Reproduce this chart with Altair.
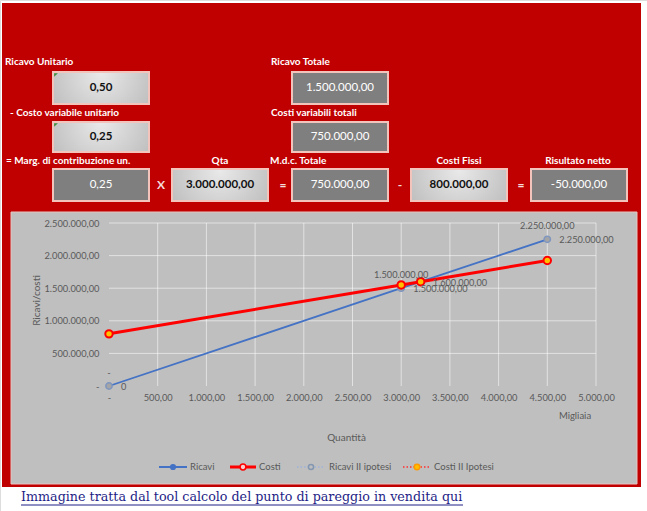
import altair as alt
import pandas as pd

# ---------------- data ----------------
# chart series: quantity in thousands (Migliaia), value in euro
ricavi_q = [0, 3000, 4500]
ricavi_v = [0, 1500000, 2250000]
costi_q = [0, 3000, 3200, 4500]
costi_v = [800000, 1550000, 1600000, 1925000]
ricavi2_q = [0, 3000, 4500]
ricavi2_v = [0, 1500000, 2250000]
costi2_q = [0, 3000, 3200, 4500]
costi2_v = [800000, 1550000, 1600000, 1925000]

x_ticks = [0, 500, 1000, 1500, 2000, 2500, 3000, 3500, 4000, 4500, 5000]
y_ticks = [0, 500000, 1000000, 1500000, 2000000, 2500000]

# data labels shown on the chart
lbl_q = [0, 0, 3000, 3000, 3200, 4500, 4500]
lbl_v = [0, 0, 1500000, 1500000, 1600000, 2250000, 2250000]
lbl_text = ["-", "0", "1.500.000,00", "1.500.000,00", "1.600.000,00", "2.250.000,00", "2.250.000,00"]
lbl_side = ["above", "right", "above", "right", "right", "above", "right"]

# dashboard fields
field_names = ["Ricavo Unitario", "- Costo variabile unitario", "= Marg. di contribuzione un.", "Qta",
               "Ricavo Totale", "Costi variabili totali", "M.d.c. Totale", "Costi Fissi", "Risultato netto"]
field_values = [0.50, 0.25, 0.25, 3000000, 1500000, 750000, 750000, 800000, -50000]
field_computed = [False, False, True, False, True, True, True, False, True]
field_comment = [True, True, False, False, False, False, False, False, False]
operator_signs = ["X", "=", "-", "="]

legend_names = ["Ricavi", "Costi", "Ricavi II ipotesi", "Costi II Ipotesi"]
x_title = "Quantità"
y_title = "Ricavi/costi"
unit_note = "Migliaia"
footer = "Immagine tratta dal tool calcolo del punto di pareggio in vendita qui"

# ---------------- layout & style ----------------
W, H = 647, 511
FONT = "Lato"
RED = "#C00000"
GRAYTXT = "#595959"
BOX_W = 96
box_x0 = [53, 53, 53, 172, 292, 292, 292, 411, 531]
box_y0 = [72, 122, 169, 169, 72, 122, 169, 169, 169]
box_y1 = [104, 152, 201, 201, 104, 152, 201, 201, 201]
lab_x = [5, 10, 6, 220, 271, 271, 270, 459, 578]
lab_y = [62, 113, 161, 161, 62, 113, 161, 161, 161]
lab_center = [False, False, False, True, False, False, False, True, True]
op_x = [161, 283, 400, 521]
OP_Y = 185

XS = alt.Scale(domain=[x_ticks[0], x_ticks[-1]], range=[109, 596], nice=False, zero=False)
YS = alt.Scale(domain=[y_ticks[0], y_ticks[-1]], range=[386, 223], nice=False)

leg_cx = [173, 243, 311, 417]
leg_half = [14, 13, 14, 14]
leg_tx = [190, 259, 329, 434]
LEG_Y = 467
leg_line_color = ["#4472C4", "#FF0000", "#9DB3D9", "#FF3030"]
leg_line_width = [2, 3, 1.5, 1.5]
leg_dash = [[1, 0], [1, 0], [1.5, 2], [1.5, 2]]
leg_mfill = ["#4472C4", "#F8D0D0", "#BFBFBF", "#FFC000"]
leg_mstroke = ["#4472C4", "#FF0000", "#8497B0", "#FF9900"]
leg_msize = [22, 34, 26, 30]

one = pd.DataFrame({"k": [0]})


def px(f):
    return alt.X(f, type="quantitative", scale=None, axis=None)


def py(f):
    return alt.Y(f, type="quantitative", scale=None, axis=None)


def qx(f, axis=None):
    return alt.X(f, type="quantitative", scale=XS, axis=axis)


def vy(f, axis=None):
    return alt.Y(f, type="quantitative", scale=YS, axis=axis)


layers = []

# red sheet and grey chart area
layers.append(alt.Chart(one).mark_rect(fill=RED).encode(
    x=alt.value(2), x2=alt.value(641), y=alt.value(3), y2=alt.value(487)))
layers.append(alt.Chart(one).mark_rect(fill="#BFBFBF", stroke="#E8C4C2", strokeWidth=1).encode(
    x=alt.value(11), x2=alt.value(637), y=alt.value(212), y2=alt.value(484)))

# dashboard boxes
boxes = pd.DataFrame({
    "name": field_names, "value": field_values, "computed": field_computed,
    "comment": field_comment, "x0": box_x0, "y0": box_y0,
    "x1": [x + BOX_W for x in box_x0], "y1": box_y1,
    "lx": lab_x, "ly": lab_y, "center": lab_center,
})
boxes["cx"] = (boxes["x0"] + boxes["x1"]) / 2
boxes["cy"] = (boxes["y0"] + boxes["y1"]) / 2
boxes["tx"] = boxes["x0"] + 3
boxes["ty"] = boxes["y0"] + 3

light_grad = {"gradient": "radial", "x1": 0.5, "y1": 0.35, "r1": 0, "x2": 0.5, "y2": 0.35, "r2": 0.75,
              "stops": [{"offset": 0, "color": "#E9E9E9"}, {"offset": 1, "color": "#B3B3B3"}]}

layers.append(alt.Chart(boxes).transform_filter("!datum.computed").mark_rect(
    fill=light_grad, stroke="#F2C4BC", strokeWidth=2).encode(
    x=px("x0"), x2="x1", y=py("y0"), y2="y1"))
layers.append(alt.Chart(boxes).transform_filter("datum.computed").mark_rect(
    fill="#7F7F7F", stroke="#F2C4BC", strokeWidth=2).encode(
    x=px("x0"), x2="x1", y=py("y0"), y2="y1"))
layers.append(alt.Chart(boxes).transform_filter("datum.comment").mark_point(
    shape="M -1 -1 L 1 -1 L -1 1 Z", filled=True, size=14, color="#3E8E3E", opacity=1).encode(
    x=px("tx"), y=py("ty")))
layers.append(alt.Chart(boxes).transform_filter("!datum.computed").mark_text(
    font=FONT, fontSize=11.5, fontWeight="bold", color="#111111", baseline="middle").encode(
    x=px("cx"), y=py("cy"), text=alt.Text("value:Q", format=",.2f")))
layers.append(alt.Chart(boxes).transform_filter("datum.computed").mark_text(
    font=FONT, fontSize=11.5, color="#FFFFFF", baseline="middle").encode(
    x=px("cx"), y=py("cy"), text=alt.Text("value:Q", format=",.2f")))
layers.append(alt.Chart(boxes).transform_filter("!datum.center").mark_text(
    font=FONT, fontSize=10, fontWeight="bold", color="#FFFFFF", align="left", baseline="middle").encode(
    x=px("lx"), y=py("ly"), text="name:N"))
layers.append(alt.Chart(boxes).transform_filter("datum.center").mark_text(
    font=FONT, fontSize=10, fontWeight="bold", color="#FFFFFF", align="center", baseline="middle").encode(
    x=px("lx"), y=py("ly"), text="name:N"))

ops = pd.DataFrame({"sign": operator_signs, "ox": op_x, "oy": [OP_Y] * len(op_x)})
layers.append(alt.Chart(ops).mark_text(
    font=FONT, fontSize=12, fontWeight="bold", color="#F4DCDC", align="center", baseline="middle").encode(
    x=px("ox"), y=py("oy"), text="sign:N"))

# grid lines
vgrid = pd.DataFrame({"q": x_ticks[1:], "a": y_ticks[0], "b": y_ticks[-1]})
hgrid = pd.DataFrame({"v": y_ticks[1:], "a": x_ticks[0], "b": x_ticks[-1]})
layers.append(alt.Chart(vgrid).mark_rule(color="#FFFFFF", strokeWidth=1, opacity=0.55).encode(
    x=qx("q"), y=vy("a"), y2="b"))
layers.append(alt.Chart(hgrid).mark_rule(color="#FFFFFF", strokeWidth=1, opacity=0.55).encode(
    y=vy("v"), x=qx("a"), x2="b"))

# series
ric = pd.DataFrame({"q": ricavi_q, "v": ricavi_v})
cos = pd.DataFrame({"q": costi_q, "v": costi_v})
ric2 = pd.DataFrame({"q": ricavi2_q, "v": ricavi2_v})
cos2 = pd.DataFrame({"q": costi2_q, "v": costi2_v})

x_axis = alt.Axis(orient="bottom", values=x_ticks, format=",.2f",
                  labelExpr="datum.value == 0 ? '-' : datum.label",
                  labelFlush=False, labelOverlap=False, grid=False, domain=False, ticks=False,
                  offset=-125, labelPadding=7, labelFont=FONT, labelFontSize=9.3, labelColor=GRAYTXT,
                  title=x_title, titleFont=FONT, titleFontSize=10, titleFontWeight="normal",
                  titleColor=GRAYTXT, titleX=346, titleY=46, titleAlign="center", titleBaseline="top",
                  zindex=2)
y_axis = alt.Axis(orient="left", values=y_ticks, format=",.2f",
                  labelExpr="datum.value == 0 ? '-\u00a0\u00a0\u00a0' : datum.label",
                  labelFlush=False, labelOverlap=False, grid=False, domain=False, ticks=False,
                  offset=-109, labelPadding=10, labelFont=FONT, labelFontSize=9.3, labelColor=GRAYTXT,
                  title=y_title, titleFont=FONT, titleFontSize=10, titleFontWeight="normal",
                  titleColor=GRAYTXT, titleX=-68, titleY=300, titleAlign="center", titleBaseline="bottom",
                  zindex=2)

layers.append(alt.Chart(ric).mark_line(color="#4472C4", strokeWidth=1.8).encode(
    x=qx("q", x_axis), y=vy("v", y_axis)))
layers.append(alt.Chart(cos).mark_line(color="#FF0000", strokeWidth=3).encode(
    x=qx("q"), y=vy("v")))
layers.append(alt.Chart(ric2).mark_point(filled=True, fill="#A5A5A5", stroke="#7F96BF",
                                         strokeWidth=1.5, size=40, opacity=1).encode(
    x=qx("q"), y=vy("v")))
layers.append(alt.Chart(cos2).mark_point(filled=True, fill="#FFC000", stroke="#FF0000",
                                         strokeWidth=2, size=55, opacity=1).encode(
    x=qx("q"), y=vy("v")))

lbl = pd.DataFrame({"q": lbl_q, "v": lbl_v, "t": lbl_text, "side": lbl_side})
layers.append(alt.Chart(lbl).transform_filter("datum.side == 'above'").mark_text(
    font=FONT, fontSize=9.2, color=GRAYTXT, align="center", baseline="middle", dy=-13).encode(
    x=qx("q"), y=vy("v"), text="t:N"))
layers.append(alt.Chart(lbl).transform_filter("datum.side == 'right'").mark_text(
    font=FONT, fontSize=9.2, color=GRAYTXT, align="left", baseline="middle", dx=12, dy=1).encode(
    x=qx("q"), y=vy("v"), text="t:N"))

layers.append(alt.Chart(one).mark_text(
    font=FONT, fontSize=9.5, color=GRAYTXT, align="center", baseline="middle").encode(
    x=alt.value(575), y=alt.value(416), text=alt.value(unit_note)))

# legend (drawn by hand: line + marker + text)
for i, name in enumerate(legend_names):
    layers.append(alt.Chart(one).mark_rule(color=leg_line_color[i], strokeWidth=leg_line_width[i],
                                           strokeDash=leg_dash[i]).encode(
        x=alt.value(leg_cx[i] - leg_half[i]), x2=alt.value(leg_cx[i] + leg_half[i]), y=alt.value(LEG_Y)))
    layers.append(alt.Chart(one).mark_point(filled=True, fill=leg_mfill[i], stroke=leg_mstroke[i],
                                            strokeWidth=1.5, size=leg_msize[i], opacity=1).encode(
        x=alt.value(leg_cx[i]), y=alt.value(LEG_Y)))
    layers.append(alt.Chart(one).mark_text(font=FONT, fontSize=9.5, color=GRAYTXT, align="left",
                                           baseline="middle").encode(
        x=alt.value(leg_tx[i]), y=alt.value(LEG_Y), text=alt.value(name)))

# footer link
layers.append(alt.Chart(one).mark_text(font="DejaVu Serif", fontSize=12.7, color="#1E1E86",
                                       align="left", baseline="middle").encode(
    x=alt.value(21), y=alt.value(497), text=alt.value(footer)))
layers.append(alt.Chart(one).mark_rule(color="#1E1E86", strokeWidth=1).encode(
    x=alt.value(21), x2=alt.value(463), y=alt.value(505)))

chart = alt.layer(*layers).resolve_scale(x="independent", y="independent").properties(
    width=W, height=H, padding=0, autosize=alt.AutoSizeParams(type="none"), background="white"
).configure_view(stroke=None, fill=None).configure(
    locale=alt.Locale(number=alt.NumberLocale(decimal=",", thousands=".", grouping=[3],
                                              currency=["", " €"], minus="-"))
)

chart.save("out.html", embed_options={"renderer": "svg", "actions": False})
